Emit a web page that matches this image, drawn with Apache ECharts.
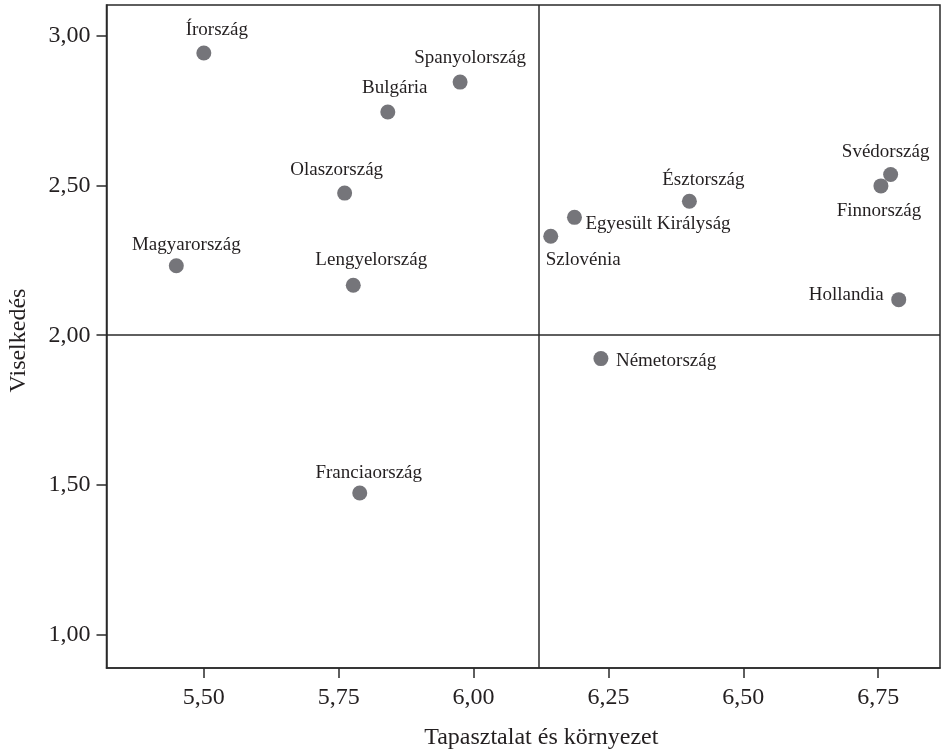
<!DOCTYPE html>
<html>
<head>
<meta charset="utf-8">
<script src="https://cdn.jsdelivr.net/npm/echarts@6/dist/echarts.min.js"></script>
<style>
html,body{margin:0;padding:0;background:#fff;}
#chart{width:941px;height:751px;}
</style>
</head>
<body>
<div id="chart"></div>
<script>
// ---- data ----
var countries = ['Írország','Spanyolország','Bulgária','Olaszország','Magyarország','Lengyelország','Franciaország','Szlovénia','Egyesült Királyság','Észtország','Svédország','Finnország','Hollandia','Németország'];
var experience = [5.50, 5.975, 5.841, 5.761, 5.449, 5.777, 5.789, 6.143, 6.187, 6.400, 6.773, 6.755, 6.788, 6.236];
var behaviour  = [2.943, 2.846, 2.746, 2.475, 2.232, 2.167, 1.473, 2.331, 2.394, 2.448, 2.537, 2.499, 2.119, 1.922];
var xTicks = [5.50, 5.75, 6.00, 6.25, 6.50, 6.75];
var yTicks = [1.00, 1.50, 2.00, 2.50, 3.00];
var xRef = 6.12;
var yRef = 2.00;
var xTitle = 'Tapasztalat és környezet';
var yTitle = 'Viselkedés';

// ---- label placement (style) : [dx, dy, align] relative to dot centre ----
var labelPlace = {
  'Írország':[13,-23,'center'],
  'Spanyolország':[10,-24,'center'],
  'Bulgária':[7,-24,'center'],
  'Olaszország':[-8,-23,'center'],
  'Magyarország':[10,-21,'center'],
  'Lengyelország':[18,-25,'center'],
  'Franciaország':[9,-20,'center'],
  'Szlovénia':[-5,24,'left'],
  'Egyesült Királyság':[11,7,'left'],
  'Észtország':[14,-21,'center'],
  'Svédország':[-5,-23,'center'],
  'Finnország':[-2,25,'center'],
  'Hollandia':[-15,-5,'right'],
  'Németország':[15,2,'left']
};

var FONT = '"Liberation Serif", "Times New Roman", serif';
var fmt = function(v){ return Number(v).toFixed(2).replace('.', ','); };

var points = countries.map(function(n, i){
  var p = labelPlace[n];
  return {
    name: n,
    value: [experience[i], behaviour[i]],
    label: {
      show: true, position: 'inside', formatter: n,
      offset: [p[0], p[1]], align: p[2], verticalAlign: 'middle',
      fontFamily: FONT, fontSize: 19, color: '#231f20'
    }
  };
});

var chart = echarts.init(document.getElementById('chart'), null, {renderer:'canvas'});
chart.setOption({
  animation: false,
  backgroundColor: '#fff',
  grid: {left: 106.5, top: 5, right: 1, bottom: 83, containLabel: false, outerBoundsMode: 'none', show: true, borderColor: '#2a2a2a', borderWidth: 1.5, backgroundColor: 'transparent'},
  xAxis: {
    type: 'value', min: 5.3196, max: 6.8645,
    name: xTitle, nameLocation: 'middle', nameGap: 58,
    nameTextStyle: {fontFamily: FONT, fontSize: 24, color: '#231f20', padding: [0, 0, 0, 36]},
    axisLine: {show: true, lineStyle: {color: '#2a2a2a', width: 1.5}},
    axisTick: {show: true, length: 10, customValues: xTicks, lineStyle: {color: '#2a2a2a', width: 1.5}},
    axisLabel: {customValues: xTicks, formatter: fmt, fontFamily: FONT, fontSize: 24, color: '#231f20', margin: 18},
    splitLine: {show: false}
  },
  yAxis: {
    type: 'value', min: 0.888, max: 3.1036,
    name: yTitle, nameLocation: 'middle', nameGap: 76, nameRotate: 90,
    nameTextStyle: {fontFamily: FONT, fontSize: 24, color: '#231f20', padding: [0, 8, 0, 0]},
    axisLine: {show: true, lineStyle: {color: '#2a2a2a', width: 1.5}},
    axisTick: {show: true, length: 10, customValues: yTicks, lineStyle: {color: '#2a2a2a', width: 1.5}},
    axisLabel: {customValues: yTicks, formatter: fmt, fontFamily: FONT, fontSize: 24, color: '#231f20', margin: 16},
    splitLine: {show: false}
  },
  series: [{
    type: 'scatter',
    symbolSize: 15,
    itemStyle: {color: '#75757a', opacity: 1},
    data: points,
    markLine: {
      silent: true, symbol: ['none','none'], animation: false,
      label: {show: false},
      lineStyle: {color: '#2a2a2a', width: 1.5, type: 'solid'},
      data: [{xAxis: xRef}, {yAxis: yRef}]
    }
  }]
});
</script>
</body>
</html>
